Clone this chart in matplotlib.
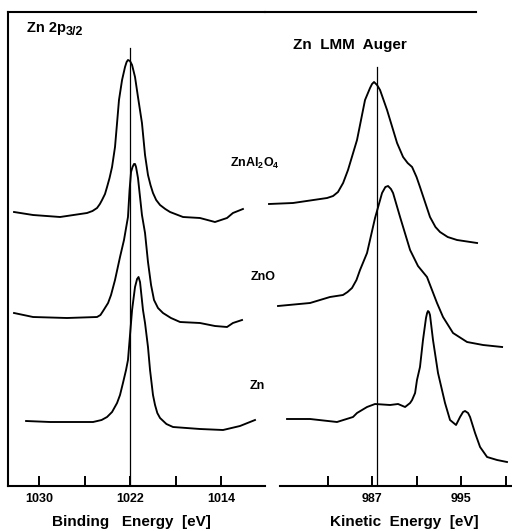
import matplotlib
matplotlib.use("Agg")
import matplotlib.pyplot as plt
from matplotlib.transforms import offset_copy

plt.rcParams['font.family'] = ['Liberation Sans', 'DejaVu Sans']
plt.rcParams['font.weight'] = 'bold'
plt.rcParams['mathtext.fontset'] = 'custom'
plt.rcParams['mathtext.rm'] = 'Liberation Sans:bold'
plt.rcParams['mathtext.it'] = 'Liberation Sans:bold'
plt.rcParams['mathtext.bf'] = 'Liberation Sans:bold'

# ---------------- data (arbitrary intensity units) ----------------
# Zn 2p3/2 : binding energy (eV)
be_znal2o4 = [1032.20, 1030.53, 1028.15, 1025.78, 1025.30, 1024.90, 1024.65, 1024.46,
              1024.20, 1024.02, 1023.80, 1023.58, 1023.32, 1023.14, 1022.97, 1022.70,
              1022.44, 1022.30, 1022.18, 1022.00, 1021.82, 1021.56, 1021.30, 1020.95,
              1020.68, 1020.42, 1020.20, 1019.98, 1019.70, 1019.36, 1018.90, 1018.48,
              1017.34, 1015.85, 1014.53, 1013.47, 1012.95, 1012.07]
i_znal2o4 = [274, 271, 269, 273, 275, 278, 282, 286, 292, 299, 308, 319, 339, 363, 386,
             406, 419, 424, 426, 425, 421, 409, 389, 363, 331, 311, 301, 293, 286, 281,
             277, 274, 269, 268, 264, 268, 273, 277]

be_zno = [1032.20, 1030.53, 1027.54, 1024.90, 1024.60, 1024.37, 1023.93, 1023.67,
          1023.32, 1022.88, 1022.53, 1022.18, 1022.04, 1021.91, 1021.78, 1021.65,
          1021.56, 1021.47, 1021.30, 1021.12, 1020.95, 1020.68, 1020.42, 1020.15,
          1019.89, 1019.54, 1019.10, 1018.40, 1017.60, 1015.85, 1014.53, 1013.47,
          1012.95, 1012.15]
i_zno = [173, 169, 168, 169, 171, 175, 183, 191, 206, 229, 246, 269, 296, 314, 319,
         322, 322, 319, 308, 289, 271, 253, 224, 201, 186, 178, 173, 168, 164, 163,
         160, 159, 163, 166]

be_zn = [1031.14, 1029.03, 1025.25, 1024.50, 1024.02, 1023.58, 1023.14, 1022.88,
         1022.62, 1022.35, 1022.18, 1022.00, 1021.82, 1021.56, 1021.38, 1021.25,
         1021.12, 1020.86, 1020.68, 1020.42, 1020.24, 1019.98, 1019.80, 1019.60,
         1019.36, 1018.80, 1018.22, 1015.85, 1013.82, 1012.33, 1011.01]
i_zn = [65, 64, 64, 66, 69, 74, 83, 91, 103, 116, 126, 151, 176, 199, 207, 209, 204,
        176, 163, 139, 116, 91, 81, 73, 68, 62, 59, 57, 56, 60, 66]

# Zn LMM Auger : kinetic energy (eV)
ke_znal2o4 = [977.74, 979.90, 982.96, 983.50, 983.94, 984.40, 984.84, 985.65, 986.37,
              986.82, 987.00, 987.18, 987.45, 987.72, 988.35, 989.25, 989.79, 990.20,
              990.60, 991.00, 991.31, 992.21, 992.70, 993.11, 993.80, 994.64, 996.44]
a_znal2o4 = [282, 283, 288, 290, 294, 303, 316, 346, 386, 398, 402, 404, 401, 396, 376,
             343, 329, 323, 319, 309, 299, 269, 259, 254, 249, 246, 243]

ke_zno = [978.55, 981.43, 983.22, 984.39, 984.80, 985.20, 985.60, 985.92, 986.55,
          987.27, 987.90, 988.20, 988.44, 988.70, 988.89, 989.52, 990.42, 991.13,
          991.94, 992.84, 993.38, 994.28, 995.54, 996.98, 998.69]
a_zno = [180, 183, 189, 191, 194, 198, 206, 216, 233, 268, 293, 299, 300, 297, 293,
         269, 236, 220, 209, 183, 169, 153, 144, 141, 139]

ke_zn = [979.36, 981.43, 983.85, 985.29, 985.65, 986.55, 987.27, 988.62, 989.34,
         989.97, 990.42, 990.60, 990.87, 991.04, 991.31, 991.58, 991.85, 991.95,
         992.03, 992.12, 992.21, 992.48, 992.93, 993.56, 994.01, 994.55, 994.91,
         995.18, 995.36, 995.63, 995.81, 996.26, 996.71, 997.34, 998.24, 999.13]
a_zn = [67, 67, 64, 69, 73, 79, 82, 81, 82, 79, 83, 86, 93, 106, 119, 146, 168, 173,
        175, 174, 171, 146, 113, 83, 66, 61, 69, 74, 75, 73, 69, 53, 39, 29, 26, 24]

be_ref = 1022.0
ke_ref = 987.45
be_ticks = [1030, 1026, 1022, 1018, 1014]
be_labels = ['1030', '', '1022', '', '1014']
ke_ticks = [983, 987, 991, 995, 999]
ke_labels = ['', '987', '', '995', '']
sample_names = ['ZnAl$_2$O$_4$', 'ZnO', 'Zn']

# ---------------- figure ----------------
W, H = 512, 531
fig = plt.figure(figsize=(W / 100, H / 100), dpi=100)
axL = fig.add_axes([8 / W, 45 / H, 257 / W, 474 / H])
axR = fig.add_axes([265 / W, 45 / H, 247 / W, 474 / H])

lw = 1.35
for x, y in [(be_znal2o4, i_znal2o4), (be_zno, i_zno), (be_zn, i_zn)]:
    axL.plot(x, y, color='black', lw=lw, solid_joinstyle='round')
for x, y in [(ke_znal2o4, a_znal2o4), (ke_zno, a_zno), (ke_zn, a_zn)]:
    axR.plot(x, y, color='black', lw=lw, solid_joinstyle='round')

axL.plot([be_ref, be_ref], [0, 438], color='black', lw=0.9)
axR.plot([ke_ref, ke_ref], [0, 419], color='black', lw=0.9)

axL.set_xlim(1032.73, 1010.13)
axR.set_xlim(977.38, 999.58)
for ax in (axL, axR):
    ax.set_ylim(0, 474)
    ax.set_yticks([])
    ax.patch.set_alpha(0)
    for s in ax.spines.values():
        s.set_linewidth(1.5)
    ax.tick_params(axis='x', direction='in', length=7, width=1.4, pad=5,
                   labelsize=9)
axL.spines['right'].set_visible(False)
axR.spines['left'].set_visible(False)
axR.spines['right'].set_visible(False)
axR.spines['bottom'].set_bounds(978.73, 999.58)
axR.spines['top'].set_bounds(977.38, 996.3)

axL.set_xticks(be_ticks)
axL.set_xticklabels(be_labels, fontweight='bold')
axR.set_xticks(ke_ticks)
axR.set_xticklabels(ke_labels, fontweight='bold')

fig.text(131 / W, 1 - 522 / H, 'Binding   Energy  [eV]', fontsize=11,
         fontweight='bold', ha='center', va='center')
fig.text(404 / W, 1 - 522 / H, 'Kinetic  Energy  [eV]', fontsize=11,
         fontweight='bold', ha='center', va='center')

t1 = axL.text(1031.05, 454, 'Zn 2p', fontsize=10.5, fontweight='bold',
              ha='left', va='baseline')
fig.canvas.draw()
bb = t1.get_window_extent()
sub_tr = offset_copy(axL.transData, fig=fig, x=bb.width, y=-3, units='dots')
axL.text(1031.05, 454, '3/2', fontsize=9, fontweight='bold', ha='left',
         va='baseline', transform=sub_tr)

axR.text(979.9, 437, 'Zn  LMM  Auger', fontsize=11, fontweight='bold',
         ha='left', va='baseline')

for name, (px, py) in zip(sample_names, [(230, 163), (251, 277), (250, 386)]):
    fig.text(px / W, 1 - py / H, name, fontsize=9, fontweight='bold',
             ha='left', va='center')

fig.savefig('out.png', dpi=100)
